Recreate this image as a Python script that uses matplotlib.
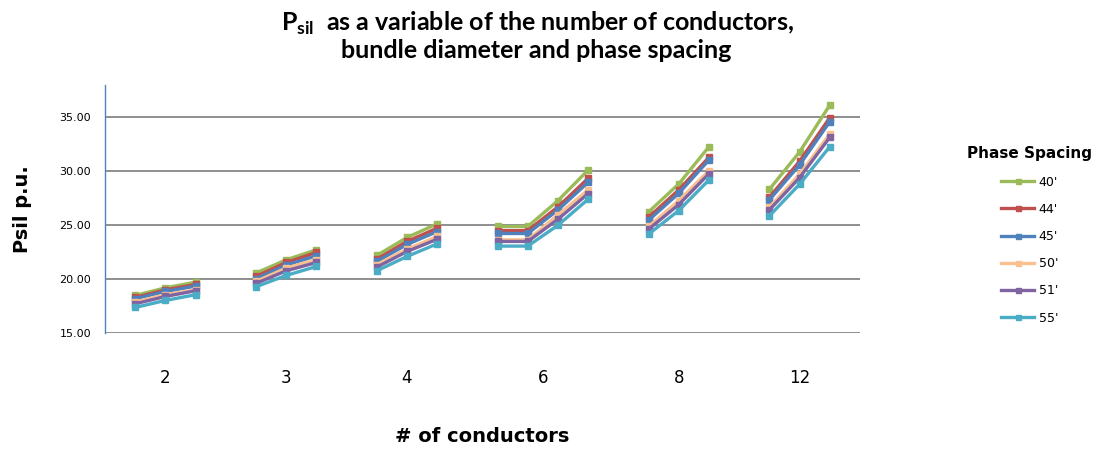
import matplotlib
matplotlib.use("Agg")
import matplotlib.pyplot as plt
import numpy as np

# -----------------------
# DATA
# -----------------------

conductors = ['2', '3', '4', '6', '8', '12']
group_sizes = [3, 3, 3, 4, 3, 3]   # bundle diameters per conductor count

spacing_labels = ["40'", "44'", "45'", "50'", "51'", "55'"]

psil_40 = [18.48, 19.19, 19.72, 20.56, 21.79, 22.72, 22.19, 23.86, 25.12,
           24.88, 24.88, 27.28, 30.12, 26.23, 28.83, 32.28, 28.33, 31.79, 36.14]
psil_44 = [18.30, 19.00, 19.50, 20.25, 21.54, 22.47, 21.85, 23.49, 24.72,
           24.50, 24.50, 26.70, 29.35, 25.74, 28.27, 31.30, 27.59, 30.93, 34.97]
psil_45 = [18.18, 18.85, 19.35, 20.03, 21.30, 22.16, 21.64, 23.21, 24.41,
           24.23, 24.23, 26.42, 28.98, 25.46, 27.96, 31.05, 27.35, 30.59, 34.60]
psil_50 = [17.87, 18.55, 19.00, 19.78, 21.02, 21.79, 21.33, 22.78, 23.95,
           23.64, 23.64, 25.96, 28.27, 24.88, 27.28, 30.06, 26.67, 29.72, 33.46]
psil_51 = [17.71, 18.39, 18.92, 19.60, 20.77, 21.54, 21.11, 22.56, 23.70,
           23.49, 23.49, 25.56, 27.93, 24.63, 26.91, 29.78, 26.42, 29.41, 33.15]
psil_55 = [17.37, 18.02, 18.55, 19.29, 20.34, 21.17, 20.77, 22.10, 23.27,
           23.06, 23.06, 25.00, 27.41, 24.17, 26.36, 29.20, 25.86, 28.80, 32.28]

colors = ['#9BBB59', '#C0504D', '#4F81BD', '#FAC08F', '#8064A2', '#4BACC6']

# -----------------------
# PLOTTING
# -----------------------

plt.rcParams['mathtext.fontset'] = 'custom'
plt.rcParams['mathtext.rm'] = 'Lato'
plt.rcParams['mathtext.bf'] = 'Lato:bold'

# category slots: one empty slot before each group
positions = []
centers = []
k = 1
for n in group_sizes:
    slots = list(range(k, k + n))
    positions.append(slots)
    centers.append(np.mean(slots))
    k += n + 1

fig = plt.figure(figsize=(10.99, 4.51), dpi=100)
ax = fig.add_axes([105 / 1099, 1 - 333 / 451, 755 / 1099, 248 / 451])

series = [psil_40, psil_44, psil_45, psil_50, psil_51, psil_55]
for vals, lab, col in zip(series, spacing_labels, colors):
    start = 0
    for gi, slots in enumerate(positions):
        seg = vals[start:start + len(slots)]
        start += len(slots)
        ax.plot(slots, seg, color=col, lw=2.4, marker='s', markersize=4.5,
                markeredgecolor=col, label=lab if gi == 0 else None)

ax.set_xlim(0, k - 1)
ax.set_ylim(15, 38)
ax.set_yticks([15, 20, 25, 30, 35])
ax.set_yticklabels([f"{v:.2f}" for v in [15, 20, 25, 30, 35]], fontsize=8)
ax.set_xticks(centers)
ax.set_xticklabels(conductors, fontsize=12)
ax.tick_params(axis='x', length=0, pad=26)
ax.tick_params(axis='y', length=0, pad=10)
ax.grid(axis='y', color='#868686', lw=1.3)
ax.set_axisbelow(True)
for s in ['top', 'right', 'bottom']:
    ax.spines[s].set_visible(False)
ax.spines['left'].set_color('#4F81BD')
ax.spines['left'].set_linewidth(1.0)

ax.set_ylabel("Psil p.u.", fontsize=14, fontweight='bold', labelpad=20)
fig.text(482 / 1099, 1 - 437 / 451, "# of conductors", ha='center', va='center',
         fontsize=14, fontweight='bold')

title_font = ['Lato', 'DejaVu Sans']
fig.text(538 / 1099, 1 - 23 / 451, r"P$_{\mathbf{sil}}$  as a variable of the number of conductors,",
         ha='center', va='center', fontsize=18, fontweight='bold', family=title_font)
fig.text(536 / 1099, 1 - 51 / 451, "bundle diameter and phase spacing",
         ha='center', va='center', fontsize=18, fontweight='bold', family=title_font)

leg = ax.legend(loc='upper left', bbox_to_anchor=(956 / 1099, 1 - 135 / 451),
                bbox_transform=fig.transFigure, frameon=False, fontsize=9,
                title="Phase Spacing", handlelength=2.6, labelspacing=1.14,
                markerscale=0.8, handletextpad=0.4)
leg.get_title().set_fontweight('bold')
leg.get_title().set_fontsize(11)
leg._legend_box.align = "center"

fig.savefig("out.png", dpi=100)
